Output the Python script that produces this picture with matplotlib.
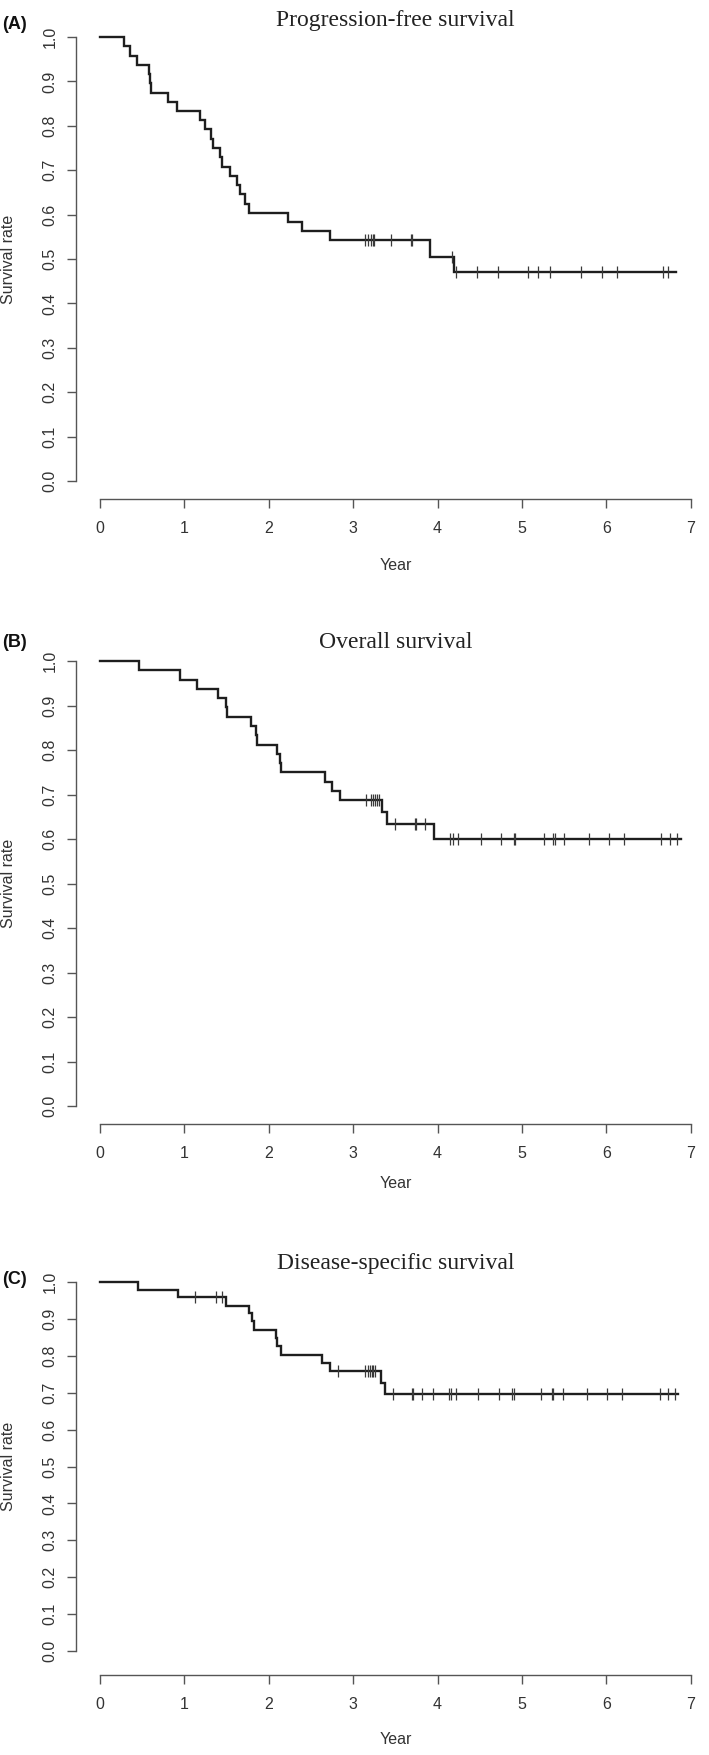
import numpy as np
import matplotlib.pyplot as plt

# Kaplan-Meier curves (years, survival rate)
pfs_time = [0, 0.29, 0.35, 0.44, 0.585, 0.595, 0.61, 0.81, 0.915, 1.18, 1.24, 1.31, 1.34,
            1.42, 1.45, 1.54, 1.62, 1.66, 1.72, 1.76, 2.23, 2.39, 2.73, 3.91, 4.20]
pfs_surv = [1.0, 0.979, 0.958, 0.938, 0.917, 0.896, 0.875, 0.854, 0.833, 0.812, 0.792, 0.771, 0.750,
            0.729, 0.708, 0.688, 0.667, 0.646, 0.625, 0.604, 0.583, 0.562, 0.542, 0.505, 0.470]
pfs_end = 6.82
pfs_cens = [3.14, 3.18, 3.21, 3.23, 3.25, 3.45, 3.68, 3.70, 4.17, 4.22, 4.47, 4.72, 5.07,
            5.19, 5.33, 5.70, 5.95, 6.12, 6.67, 6.73]

os_time = [0, 0.46, 0.95, 1.15, 1.40, 1.49, 1.51, 1.79, 1.85, 1.86, 2.10, 2.13, 2.15, 2.66,
           2.75, 2.84, 3.34, 3.40, 3.96]
os_surv = [1.0, 0.979, 0.958, 0.938, 0.917, 0.896, 0.875, 0.854, 0.833, 0.812, 0.792, 0.771,
           0.750, 0.729, 0.708, 0.688, 0.661, 0.634, 0.601]
os_end = 6.88
os_cens = [3.15, 3.21, 3.24, 3.26, 3.28, 3.30, 3.49, 3.73, 3.74, 3.85, 4.15, 4.18, 4.24, 4.51,
           4.75, 4.90, 4.92, 5.26, 5.37, 5.39, 5.50, 5.79, 6.03, 6.21, 6.65, 6.75, 6.84]

dss_time = [0, 0.45, 0.93, 1.49, 1.76, 1.80, 1.83, 2.08, 2.10, 2.14, 2.63, 2.73, 3.33, 3.38]
dss_surv = [1.0, 0.979, 0.958, 0.936, 0.915, 0.893, 0.871, 0.849, 0.826, 0.803, 0.781, 0.758,
            0.726, 0.697]
dss_end = 6.85
dss_cens = [1.13, 1.37, 1.45, 2.82, 3.14, 3.18, 3.20, 3.22, 3.24, 3.26, 3.47, 3.70, 3.71, 3.82,
            3.94, 4.13, 4.16, 4.22, 4.48, 4.73, 4.88, 4.90, 5.23, 5.35, 5.37, 5.48, 5.77, 6.01,
            6.19, 6.64, 6.73, 6.81]

titles = ['Progression-free survival', 'Overall survival', 'Disease-specific survival']
letters = ['(A)', '(B)', '(C)']
x_ticks = list(range(0, 8))
y_ticks = [round(0.1 * i, 1) for i in range(11)]

W, H = 709, 1755
fig = plt.figure(figsize=(W / 100, H / 100), dpi=100)

# pixel layout of each panel:
# y of 1.0, y of 0.0, y of x-axis line, title baseline, letter baseline, xlabel centre
layout = [(37, 481, 499, 26, 29, 566),
          (661, 1106, 1124, 648, 647, 1184),
          (1282, 1651, 1675, 1269, 1284, 1740)]
x0_px, px_per_year = 100, 84.4

curves = [(pfs_time, pfs_surv, pfs_end, pfs_cens),
          (os_time, os_surv, os_end, os_cens),
          (dss_time, dss_surv, dss_end, dss_cens)]

line_col = '#1e1e1e'
axis_col = '#555555'
text_col = '#333333'

for (times, surv, end, cens), (y1, y0, yax, t_base, l_base, xl_y), title, letter in zip(
        curves, layout, titles, letters):
    unit = y0 - y1
    lo = -(yax - y0) / unit
    left = x0_px - 0.28 * px_per_year
    right = x0_px + 7.28 * px_per_year
    top = y1 - 0.04 * unit
    ax = fig.add_axes([left / W, 1 - yax / H, (right - left) / W, (yax - top) / H])
    ax.set_xlim(-0.28, 7.28)
    ax.set_ylim(lo, 1.04)

    xs = list(times) + [end]
    ys = list(surv) + [surv[-1]]
    ax.step(xs, ys, where='post', color=line_col, lw=1.7, solid_joinstyle='miter')

    idx = np.searchsorted(times, cens, side='right') - 1
    ax.plot(cens, np.array(surv)[idx], ls='none', marker='|', ms=8, mew=0.9, color='#3a3a3a')

    for s in ['top', 'right']:
        ax.spines[s].set_visible(False)
    ax.spines['left'].set_bounds(0, 1)
    ax.spines['bottom'].set_bounds(0, 7)
    for s in ['left', 'bottom']:
        ax.spines[s].set_color(axis_col)
        ax.spines[s].set_linewidth(1.0)

    ax.set_xticks(x_ticks)
    ax.set_xticklabels([str(v) for v in x_ticks], fontfamily='Liberation Sans', fontsize=11.5,
                       color=text_col)
    ax.set_yticks(y_ticks)
    ax.set_yticklabels([f'{v:.1f}' for v in y_ticks], fontfamily='Liberation Sans', fontsize=11.5,
                       color=text_col, rotation=90, va='center')
    ax.tick_params(axis='both', direction='out', length=6.5, width=1.0, color=axis_col)
    ax.tick_params(axis='x', pad=9)
    ax.tick_params(axis='y', pad=7)

    fig.text(9 / W, 1 - (y1 + y0) / 2 / H, 'Survival rate', rotation=90, ha='center', va='center',
             fontfamily='Liberation Sans', fontsize=11.5, color=text_col)
    fig.text((x0_px + 3.5 * px_per_year) / W, 1 - xl_y / H, 'Year', ha='center', va='center',
             fontfamily='Liberation Sans', fontsize=11.5, color=text_col)
    fig.text((x0_px + 3.5 * px_per_year) / W, 1 - t_base / H, title, ha='center', va='baseline',
             fontfamily='Liberation Serif', fontsize=17, color='#222222')
    fig.text(2 / W, 1 - l_base / H, letter, ha='left', va='baseline',
             fontfamily='Liberation Sans', fontweight='bold', fontsize=13, color='#111111')

fig.savefig('out.png', dpi=100)
